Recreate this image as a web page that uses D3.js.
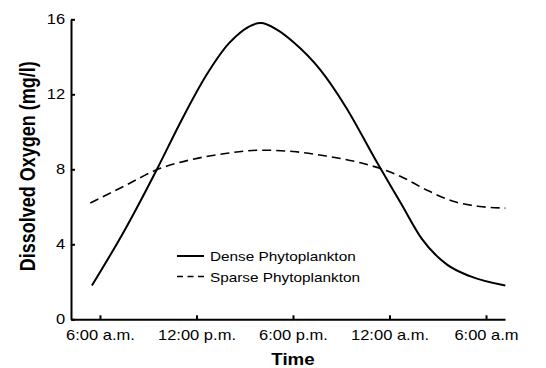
<!DOCTYPE html>
<html>
<head>
<meta charset="utf-8">
<title>Dissolved oxygen over a day</title>
<script src="https://cdn.jsdelivr.net/npm/d3@7"></script>
<style>
  body { margin: 0; background: #fff; }
  svg { display: block; }
  text { font-family: "Liberation Sans", Arial, Helvetica, sans-serif; fill: #000; }
  .axis path, .axis line { stroke: #000; stroke-width: 2; }
  .axis text { font-size: 14px; }
  .title { font-size: 17px; font-weight: bold; }
  .legend text { font-size: 13px; }
  .dense { fill: none; stroke: #000; stroke-width: 2; }
  .sparse { fill: none; stroke: #000; stroke-width: 1.6; stroke-dasharray: 9 5; }
</style>
</head>
<body>
<svg width="546" height="368"></svg>
<script>
// hours counted from 6:00 a.m. on day one
const denseHours = [-0.5, 1.5, 3.6, 5.0, 6.6, 8.0, 10.0, 11.0, 12.0, 13.7, 15.3, 17.2, 18.7, 20.0, 21.6, 23.0, 25.2];
const denseDO    = [1.8, 4.7, 8.1, 10.5, 13.0, 14.7, 15.8, 15.45, 14.8, 13.3, 11.3, 8.4, 6.2, 4.3, 2.9, 2.3, 1.8];

const sparseHours = [-0.6, 1.5, 3.6, 5.6, 7.7, 10.0, 12.0, 14.1, 16.2, 18.7, 20.3, 22.0, 23.6, 25.2];
const sparseDO    = [6.2, 7.1, 8.0, 8.5, 8.83, 9.02, 8.95, 8.7, 8.35, 7.62, 6.9, 6.28, 6.02, 5.93];

const timeTicks  = [0, 6, 12, 18, 24];
const timeLabels = ["6:00 a.m.", "12:00 p.m.", "6:00 p.m.", "12:00 a.m.", "6:00 a.m"];
const doTicks    = [0, 4, 8, 12, 16];

const seriesNames = ["Dense Phytoplankton", "Sparse Phytoplankton"];

const svg = d3.select("svg");
const stretch = 1.18; // the lettering in the picture is a bit wide

const x = d3.scaleLinear().domain([-1.8, 25.18]).range([71, 505]);
const y = d3.scaleLinear().domain([0, 16]).range([319.3, 19.3]);

// axes, ticks pointing inwards
svg.append("g")
  .attr("class", "axis")
  .attr("transform", `translate(0,${y(0)})`)
  .call(d3.axisBottom(x).tickValues(timeTicks)
    .tickFormat((d, i) => timeLabels[i])
    .tickSize(-4).tickSizeOuter(0).tickPadding(11))
  .call(g => g.selectAll("text").attr("transform", `scale(${stretch},1)`));

svg.append("g")
  .attr("class", "axis")
  .attr("transform", `translate(${x(-1.8)},0)`)
  .call(d3.axisLeft(y).tickValues(doTicks)
    .tickSize(-4).tickSizeOuter(0))
  .call(g => g.selectAll("text")
    .attr("x", -5)
    .attr("transform", `scale(${stretch},1)`));

// curves
const line = d3.line()
  .x(d => x(d[0]))
  .y(d => y(d[1]))
  .curve(d3.curveMonotoneX);

svg.append("path")
  .attr("class", "sparse")
  .attr("d", line(d3.zip(sparseHours, sparseDO)));

svg.append("path")
  .attr("class", "dense")
  .attr("d", line(d3.zip(denseHours, denseDO)));

// axis titles
svg.append("g")
  .attr("transform", `translate(35,${(y(0) + y(16)) / 2 - 3}) scale(${stretch},1) rotate(-90)`)
  .append("text")
  .attr("class", "title")
  .attr("text-anchor", "middle")
  .style("font-size", "18px")
  .text("Dissolved Oxygen (mg/l)");

svg.append("g")
  .attr("transform", `translate(${x(12)},365) scale(1.1,1)`)
  .append("text")
  .attr("class", "title")
  .attr("text-anchor", "middle")
  .text("Time");

// legend
const legend = svg.append("g").attr("class", "legend");
seriesNames.forEach((name, i) => {
  const row = legend.append("g").attr("transform", `translate(177,${256 + i * 20.5})`);
  row.append("line")
    .attr("x1", 0).attr("x2", 27)
    .attr("stroke", "#000")
    .attr("stroke-width", i === 0 ? 2 : 1.6)
    .attr("stroke-dasharray", i === 0 ? null : "6 4.5");
  row.append("g")
    .attr("transform", `translate(33,5) scale(${stretch},1)`)
    .append("text")
    .text(name);
});
</script>
</body>
</html>
